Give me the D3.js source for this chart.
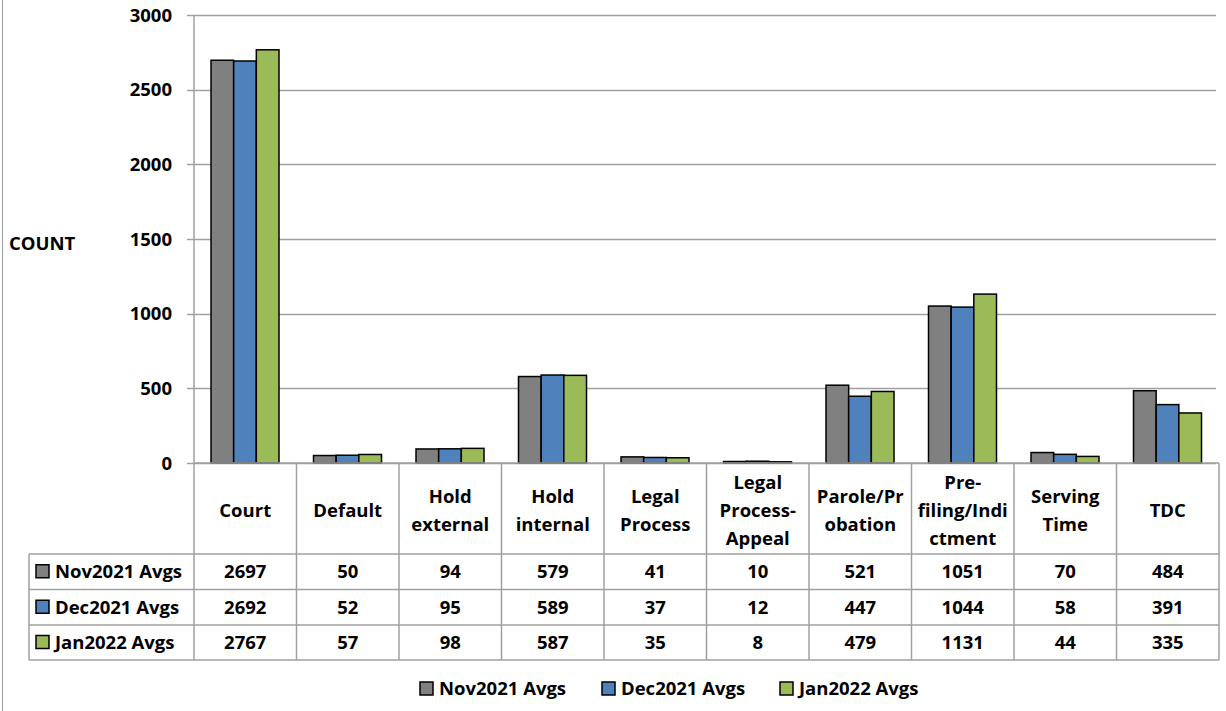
<!DOCTYPE html>
<html><head><meta charset="utf-8">
<script src="https://cdn.jsdelivr.net/npm/d3@7"></script>
<style>body{margin:0;background:#fff;}svg{display:block;font-family:"Open Sans",sans-serif;font-weight:bold;}</style>
</head><body><svg id="c" width="1226" height="711"></svg>
<script>
const categories = [["Court"],["Default"],["Hold","external"],["Hold","internal"],["Legal","Process"],["Legal","Process-","Appeal"],["Parole/Pr","obation"],["Pre-","filing/Indi","ctment"],["Serving","Time"],["TDC"]];
const seriesNames = ["Nov2021 Avgs","Dec2021 Avgs","Jan2022 Avgs"];
const nov = [2697,50,94,579,41,10,521,1051,70,484];
const dec = [2692,52,95,589,37,12,447,1044,58,391];
const jan = [2767,57,98,587,35,8,479,1131,44,335];
const yTicks = [0,500,1000,1500,2000,2500,3000];
const colors = ["#808080","#4f81bd","#9bbb59"];
const series = [nov,dec,jan];
const FS = 18.5;

const svg = d3.select("#c");
const L=194, R=1219, T=15, B=463;
const x = d3.scaleBand().domain(d3.range(categories.length)).range([L,R]);
const y = d3.scaleLinear().domain([0,3000]).range([B,T]);
const xs = d3.scaleBand().domain(d3.range(3)).range([0,68]);

svg.append("line").attr("x1",2.5).attr("x2",2.5).attr("y1",0).attr("y2",711).attr("stroke","#a0a0a0");

svg.append("g").selectAll("line").data(yTicks).join("line")
  .attr("x1",187).attr("x2",R-3).attr("y1",d=>Math.round(y(d))+0.5).attr("y2",d=>Math.round(y(d))+0.5)
  .attr("stroke","#a0a0a0").attr("stroke-width",1.5);
svg.append("g").selectAll("text").data(yTicks).join("text")
  .attr("x",172).attr("y",d=>y(d)).attr("dy","0.36em").attr("text-anchor","end").attr("font-size",FS).text(d=>d);
svg.append("line").attr("x1",L).attr("x2",L).attr("y1",T).attr("y2",B).attr("stroke","#a0a0a0").attr("stroke-width",1.5);

svg.append("text").attr("x",9).attr("y",243).attr("dy","0.36em").attr("font-size",FS).text("COUNT");

series.forEach((s,si)=>{
  svg.append("g").selectAll("rect").data(s).join("rect")
    .attr("x",(d,i)=>x(i)+17+xs(si)).attr("width",xs.bandwidth())
    .attr("y",d=>y(d)).attr("height",d=>B-y(d))
    .attr("fill",colors[si]).attr("stroke","#000").attr("stroke-width",1.5);
});

const rowY = [463,554,589.5,625,660];
const g = svg.append("g").attr("stroke","#a0a0a0").attr("stroke-width",1.5);
d3.range(categories.length+1).forEach(i=>{
  const xx = i<categories.length ? x(i) : R;
  g.append("line").attr("x1",xx).attr("x2",xx).attr("y1",463).attr("y2",660);
});
g.append("line").attr("x1",29).attr("x2",29).attr("y1",554).attr("y2",660);
rowY.forEach((yy,i)=>{
  if(i===0) return;
  g.append("line").attr("x1",29).attr("x2",R).attr("y1",yy).attr("y2",yy);
});
g.append("line").attr("x1",L).attr("x2",R).attr("y1",463).attr("y2",463);

categories.forEach((c,i)=>{
  const cx = x(i)+x.bandwidth()/2;
  const lh = 28;
  const y0 = 510 - (c.length-1)*lh/2;
  c.forEach((t,j)=>{
    svg.append("text").attr("x",cx).attr("y",y0+j*lh).attr("dy","0.36em").attr("text-anchor","middle").attr("font-size",FS).text(t);
  });
});
series.forEach((s,si)=>{
  const cy = (rowY[si+1]+rowY[si+2])/2;
  svg.append("rect").attr("x",36).attr("y",cy-7).attr("width",13).attr("height",13).attr("fill",colors[si]).attr("stroke","#000").attr("stroke-width",1.5);
  svg.append("text").attr("x",55).attr("y",cy).attr("dy","0.36em").attr("font-size",FS).text(seriesNames[si]);
  s.forEach((v,i)=>{
    svg.append("text").attr("x",x(i)+x.bandwidth()/2).attr("y",cy).attr("dy","0.36em").attr("text-anchor","middle").attr("font-size",FS).text(v);
  });
});

const legX = [420,602,780];
seriesNames.forEach((n,si)=>{
  svg.append("rect").attr("x",legX[si]).attr("y",682).attr("width",13).attr("height",13).attr("fill",colors[si]).attr("stroke","#000").attr("stroke-width",1.5);
  svg.append("text").attr("x",legX[si]+19).attr("y",688).attr("dy","0.36em").attr("font-size",FS).text(n);
});
</script></body></html>
